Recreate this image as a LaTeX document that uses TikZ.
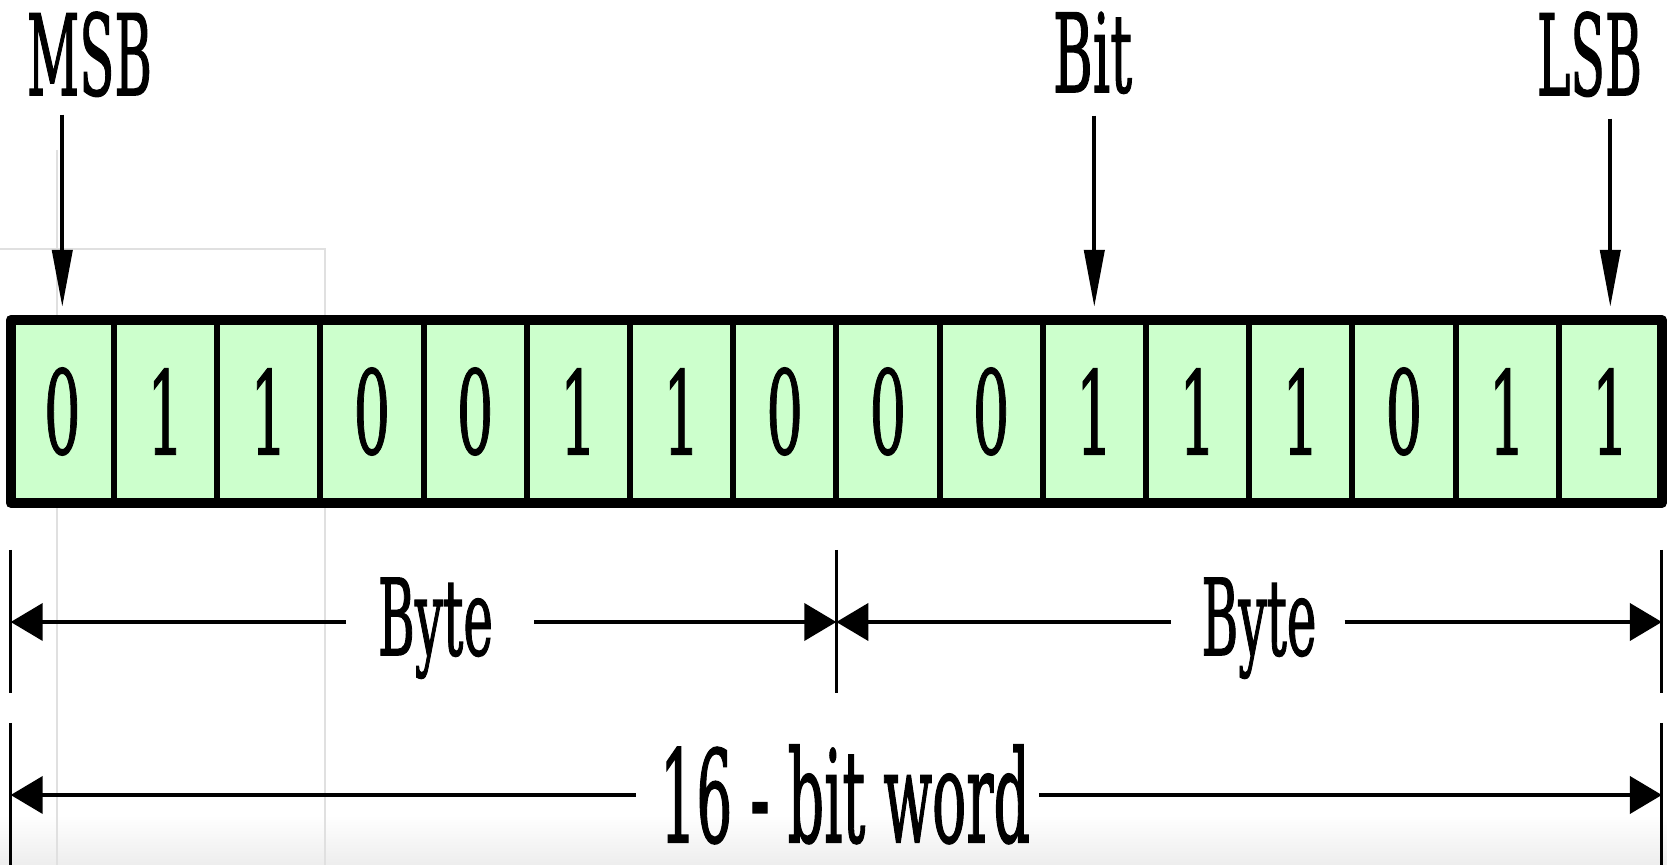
\documentclass[tikz,border=0pt]{standalone}
\usepackage{fontspec}
\usepackage{graphicx}
\newfontfamily\dv{DejaVu Serif}[FakeBold=1.6]
\newfontfamily\dvd{DejaVu Serif}[FakeBold=1.2]
\usetikzlibrary{arrows.meta,calc}
\definecolor{cellgreen}{RGB}{204,255,204}
\newcommand\bitdigit[1]{\scalebox{0.5}[1]{\dvd\fontsize{58pt}{60pt}\selectfont #1}}
\begin{document}
\begin{tikzpicture}[x=0.5pt,y=-0.5pt,
  cell/.style={draw=black, line width=3pt, fill=cellgreen, minimum width=51.6pt,
    minimum height=91.5pt, inner sep=0pt, outer sep=0pt},
  toparrow/.style={line width=2pt, -{Triangle[length=28.5pt,width=10pt]}},
  dimarrow/.style={line width=2pt, -{Triangle[length=16pt,width=18.5pt]}},
  tickline/.style={line width=1.5pt},
  faint/.style={draw=black!12, line width=1pt},
  lbl/.style={inner sep=0pt, outer sep=0pt, anchor=base}]
\useasboundingbox (0,0) rectangle (1667,865);
\fill[white] (0,0) rectangle (1667,865);
\shade[top color=white, bottom color=black!7] (0,815) rectangle (1667,865);
\draw[faint] (0,249) -- (325,249) -- (325,865);
\draw[faint] (57,150) -- (57,865);

% cells
\foreach \b [count=\i] in {0,1,1,0,0,1,1,0,0,0,1,1,1,0,1,1}
  \node[cell] (c\i) at ({10.7+(\i-0.5)*103.2},411.5) {\bitdigit{\b}};
\draw[line width=5pt, line join=round] ($(c1.north west)+(0,0)$) rectangle (c16.south east);

% top labels
\node[lbl] (msb) at (89.5,95) {\resizebox{62.5pt}{41.5pt}{\dv MSB}};
\node[lbl] (bit) at (1092.5,92) {\resizebox{39.5pt}{40pt}{\dv Bit}};
\node[lbl] (lsb) at (1589.5,95) {\resizebox{52.5pt}{41.5pt}{\dv LSB}};
\draw[toparrow] ($(c1.north |- msb.south)+(0,18)$) -- ($(c1.north)+(0,-13)$);
\draw[toparrow] ($(c11.north |- bit.south)+(0,22)$) -- ($(c11.north)+(0,-13)$);
\draw[toparrow] ($(c16.north |- lsb.south)+(0,22)$) -- ($(c16.north)+(0,-13)$);

% ticks
\foreach \a in {c1.south west, c8.south east, c16.south east}
  \draw[tickline] ($(\a)+(0,47)$) -- ($(\a)+(0,190)$);
\foreach \a in {c1.south west, c16.south east}
  \draw[tickline] ($(\a)+(0,220)$) -- ($(\a)+(0,364)$);
\coordinate (bl) at ($(c1.south west)+(0,119)$);
\coordinate (bm) at ($(c8.south east)+(0,119)$);
\coordinate (br) at ($(c16.south east)+(0,119)$);
\coordinate (wl) at ($(c1.south west)+(0,292)$);
\coordinate (wr) at ($(c16.south east)+(0,292)$);

% bottom labels
\node[lbl] (byte1) at (435.5,655) {\resizebox{57.5pt}{38.5pt}{\dv Byte}};
\node[lbl] (byte2) at (1259,655) {\resizebox{57.5pt}{38.5pt}{\dv Byte}};
\node[lbl] (word) at (845,842) {\resizebox{185pt}{48.5pt}{\dv 16 - bit word}};

\draw[dimarrow] ($(byte1.west |- bl)+(-32,0)$) -- (bl);
\draw[dimarrow] ($(byte1.east |- bl)+(41,0)$) -- (bm);
\draw[dimarrow] ($(byte2.west |- bl)+(-31,0)$) -- (bm);
\draw[dimarrow] ($(byte2.east |- bl)+(28,0)$) -- (br);
\draw[dimarrow] ($(word.west |- wl)+(-24,0)$) -- (wl);
\draw[dimarrow] ($(word.east |- wl)+(9,0)$) -- (wr);
\end{tikzpicture}
\end{document}
